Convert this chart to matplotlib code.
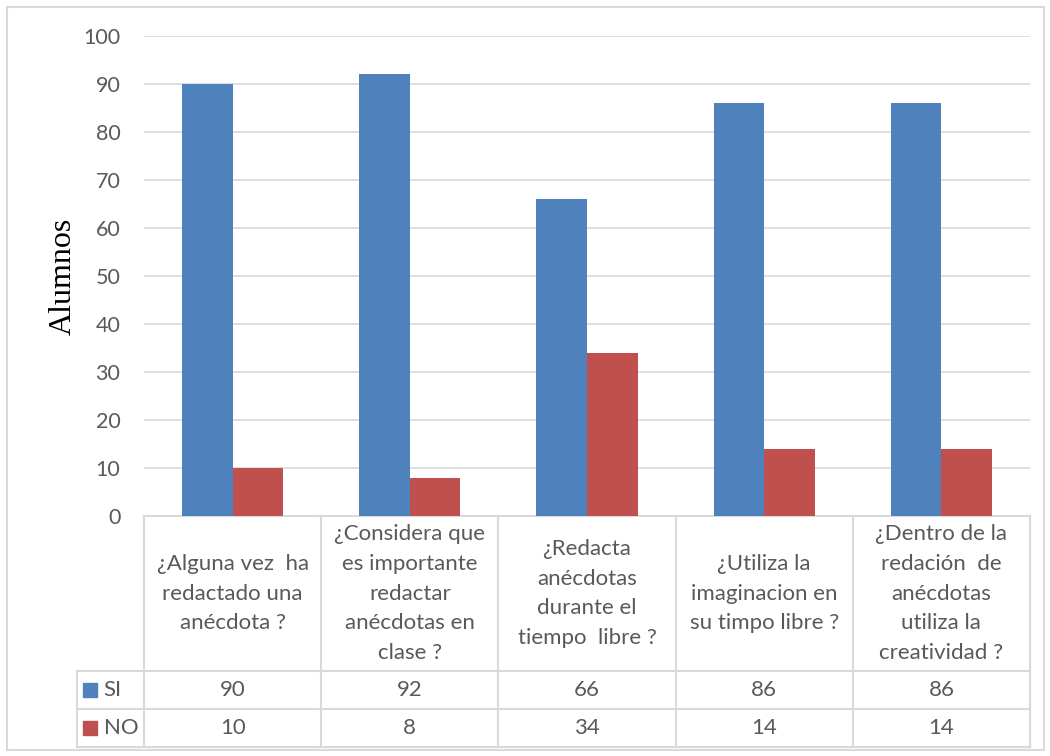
import numpy as np
import matplotlib.pyplot as plt
from matplotlib.patches import Rectangle

categories = [
    "¿Alguna vez  ha\nredactado una\nanécdota ?",
    "¿Considera que\nes importante\nredactar\nanécdotas en\nclase ?",
    "¿Redacta\nanécdotas\ndurante el\ntiempo  libre ?",
    "¿Utiliza la\nimaginacion en\nsu timpo libre ?",
    "¿Dentro de la\nredación  de\nanécdotas\nutiliza la\ncreatividad ?",
]
series_names = ["SI", "NO"]
si_values = [90, 92, 66, 86, 86]
no_values = [10, 8, 34, 14, 14]
yticks = [0, 10, 20, 30, 40, 50, 60, 70, 80, 90, 100]

BLUE = "#4F81BD"
RED = "#C0504D"
GRID = "#D9D9D9"
TEXT = "#595959"
FONT = ["Lato", "DejaVu Sans"]


def main():
    plt.rcParams['font.family'] = FONT
    W, H = 1050, 756
    fig = plt.figure(figsize=(W / 100, H / 100), dpi=100)

    # plot area in pixels
    left, right, top, bottom = 144, 1030, 36, 516
    ax = fig.add_axes([left / W, 1 - bottom / H, (right - left) / W, (bottom - top) / H])

    x = np.arange(len(categories))
    bw = 0.285
    ax.bar(x - bw / 2, si_values, bw, color=BLUE, zorder=3)
    ax.bar(x + bw / 2, no_values, bw, color=RED, zorder=3)

    ax.set_xlim(-0.5, len(categories) - 0.5)
    ax.set_ylim(0, 100)
    ax.set_yticks(yticks)
    ax.set_xticks([])
    ax.yaxis.grid(True, color=GRID, linewidth=1.2, zorder=0)
    for s in ax.spines.values():
        s.set_visible(False)
    ax.tick_params(axis='y', length=0, pad=17, labelsize=15.5, labelcolor=TEXT)
    ax.set_ylabel("Alumnos", family=["Liberation Serif"], fontsize=23,
                  color="black", labelpad=4)

    # data table below the axis (x in data units, y in axes fraction)
    tr = ax.get_xaxis_transform()
    ph = bottom - top
    y_head = (bottom - 671) / ph
    y_si = (bottom - 709) / ph
    y_no = (bottom - 747) / ph
    x_leg = -0.5 - (left - 77) / ((right - left) / len(categories))
    n = len(categories)
    lk = dict(color=GRID, linewidth=1.5, transform=tr, clip_on=False)

    ax.plot([-0.5, n - 0.5], [0, 0], **lk)
    for yy in [y_head, y_si, y_no]:
        ax.plot([x_leg, n - 0.5], [yy, yy], **lk)
    for i in range(n + 1):
        ax.plot([i - 0.5, i - 0.5], [0, y_no], **lk)
    ax.plot([x_leg, x_leg], [y_head, y_no], **lk)

    for i, cat in enumerate(categories):
        ax.text(i, y_head / 2, cat, transform=tr, ha='center', va='center',
                fontsize=16, color=TEXT, linespacing=1.62)
        ax.text(i, (y_head + y_si) / 2, str(si_values[i]), transform=tr,
                ha='center', va='center', fontsize=16, color=TEXT)
        ax.text(i, (y_si + y_no) / 2, str(no_values[i]), transform=tr,
                ha='center', va='center', fontsize=16, color=TEXT)

    for name, col, y0, y1 in [(series_names[0], BLUE, y_head, y_si),
                              (series_names[1], RED, y_si, y_no)]:
        ym = (y0 + y1) / 2
        ax.plot([x_leg + 0.075], [ym], marker='s', markersize=10.5, color=col,
                transform=tr, clip_on=False)
        ax.text(x_leg + 0.15, ym, name, transform=tr, ha='left', va='center',
                fontsize=16, color=TEXT)

    # outer chart frame
    fig.patches.append(Rectangle((7 / W, 1 - 750 / H), (1044 - 7) / W, (750 - 7) / H,
                                 transform=fig.transFigure, fill=False,
                                 edgecolor=GRID, linewidth=1.5))

    fig.savefig("out.png", dpi=100)
    return 0


if __name__ == "__main__":
    main()
